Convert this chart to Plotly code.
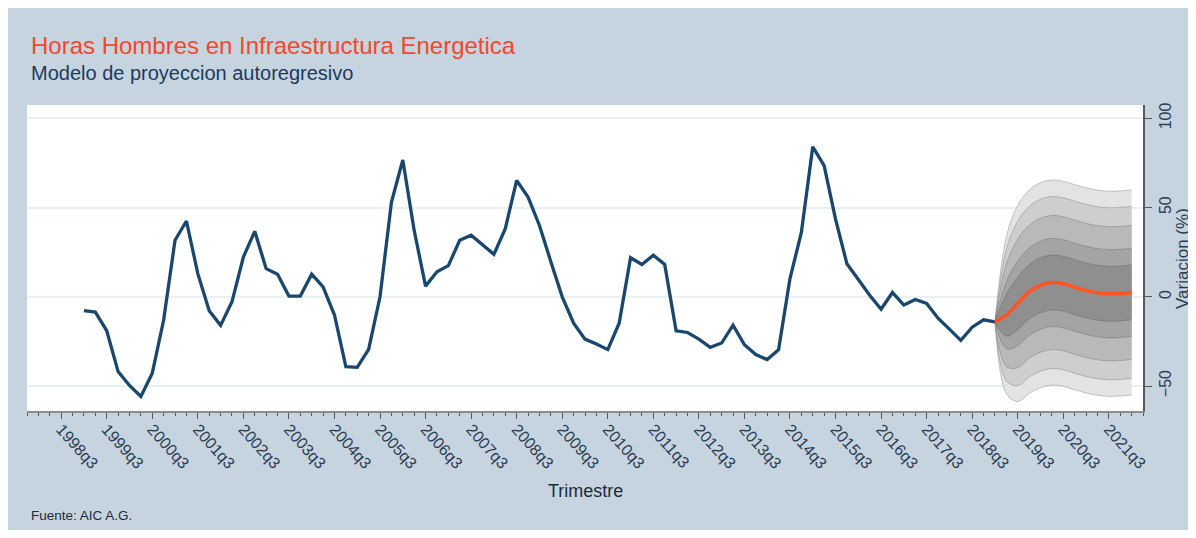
import plotly.graph_objects as go

# ---------------- data ----------------
hist_start_year, hist_start_q = 1999, 1
hist_values = [
    -7.8, -8.6, -19.0, -41.9,            # 1999
    -49.7, -55.9, -42.8, -13.0,          # 2000
    31.7, 42.5, 13.0, -7.8,              # 2001
    -16.0, -2.8, 22.3, 36.7,             # 2002
    15.8, 12.7, 0.4, 0.4,                # 2003
    12.7, 5.6, -10.2, -39.1,             # 2004
    -39.5, -29.4, 0.0, 53.0,             # 2005
    76.7, 37.2, 6.0, 14.0,               # 2006
    17.5, 31.7, 34.5, 29.4,              # 2007
    23.8, 38.2, 65.2, 55.9,              # 2008
    40.0, 19.7, 0.0, -14.8,              # 2009
    -23.7, -26.5, -29.6, -14.8,          # 2010
    21.9, 18.1, 23.3, 18.1,              # 2011
    -19.1, -20.0, -23.7, -28.3,          # 2012
    -25.9, -15.9, -26.9, -32.4,          # 2013
    -35.2, -29.6, 10.2, 36.1,            # 2014
    84.1, 73.5, 43.5, 18.5,              # 2015
    9.3, 0.9, -7.0, 2.4,                 # 2016
    -4.6, -1.5, -3.7, -12.0,             # 2017
    -18.1, -24.4, -17.0, -12.9,          # 2018
    -14.0,                               # 2019q1
]

fc_start_year, fc_start_q = 2019, 1
fc_center = [-14.0, -10.3, -3.7, 2.8, 6.5, 8.0, 7.3, 5.4, 3.6, 2.3, 1.7, 1.9, 2.5]

band95_hi = [-14.0, 33.7, 51.3, 59.8, 64.0, 65.5, 64.8, 62.9, 61.1, 59.8, 59.2, 59.4, 60.0]
band95_lo = [-14.0, -54.3, -58.7, -54.2, -51.0, -49.5, -50.2, -52.1, -53.9, -55.2, -55.8, -55.6, -55.0]
band90_hi = [-14.0, 26.6, 42.4, 50.6, 54.7, 56.2, 55.5, 53.6, 51.8, 50.5, 49.9, 50.1, 50.7]
band90_lo = [-14.0, -47.2, -49.8, -45.0, -41.7, -40.2, -40.9, -42.8, -44.6, -45.9, -46.5, -46.3, -45.7]
band80_hi = [-14.0, 18.5, 32.3, 40.1, 44.1, 45.6, 44.9, 43.0, 41.2, 39.9, 39.3, 39.5, 40.1]
band80_lo = [-14.0, -39.1, -39.7, -34.5, -31.1, -29.6, -30.3, -32.2, -34.0, -35.3, -35.9, -35.7, -35.1]
band60_hi = [-14.0, 8.6, 20.0, 27.3, 31.2, 32.7, 32.0, 30.1, 28.3, 27.0, 26.4, 26.6, 27.2]
band60_lo = [-14.0, -29.2, -27.4, -21.7, -18.2, -16.7, -17.4, -19.3, -21.1, -22.4, -23.0, -22.8, -22.2]
band40_hi = [-14.0, 1.4, 11.0, 18.0, 21.9, 23.4, 22.7, 20.8, 19.0, 17.7, 17.1, 17.3, 17.9]
band40_lo = [-14.0, -22.0, -18.4, -12.4, -8.9, -7.4, -8.1, -10.0, -11.8, -13.1, -13.7, -13.5, -12.9]

tick_years = list(range(1998, 2022))
tick_labels = [f"{y}q3" for y in tick_years]

title_text = "Horas Hombres en Infraestructura Energetica"
subtitle_text = "Modelo de proyeccion autoregresivo"
xtitle_text = "Trimestre"
ytitle_text = "Variacion (%)"
source_text = "Fuente: AIC A.G."

# ---------------- helpers ----------------
def qlabels(y0, q0, n):
    out = []
    y, q = y0, q0
    for _ in range(n):
        out.append(f"{y}q{q}")
        q += 1
        if q > 4:
            q = 1
            y += 1
    return out

def qnum(label):
    y, q = label.split("q")
    return int(y) * 4 + int(q) - 1

hist_labels = qlabels(hist_start_year, hist_start_q, len(hist_values))
fc_labels = qlabels(fc_start_year, fc_start_q, len(fc_center))
hist_x = [qnum(l) for l in hist_labels]
fc_x = [qnum(l) for l in fc_labels]
tick_x = [qnum(l) for l in tick_labels]

# ---------------- layout geometry ----------------
# the page body adds an 8px offset; positions below are in screenshot pixels
OFF = 8
FW, FH = 1196 - OFF, 538 - 2 * OFF
L, R, T, B = 26.5, 1143, 105, 411          # plot area in screenshot pixels
PW, PH = R - L, B - T

def px(xp):
    return (xp - L) / PW

def py(yp):
    return (B - yp) / PH

FONT = "Liberation Sans, Arial, Helvetica, sans-serif"
BG = "#c6d4df"
NAVY = "#1a476f"
TXT = "#2a3c52"

fig = go.Figure()

bands = [
    (band95_lo, band95_hi, "#e3e3e3"),
    (band90_lo, band90_hi, "#cecece"),
    (band80_lo, band80_hi, "#b9b9b9"),
    (band60_lo, band60_hi, "#a4a4a4"),
    (band40_lo, band40_hi, "#8f8f8f"),
]
edge = dict(color="rgba(70,70,70,0.35)", width=0.8, shape="spline", smoothing=1.0)
for lo, hi, col in bands:
    fig.add_trace(go.Scatter(x=fc_x, y=lo, mode="lines", line=edge,
                             hoverinfo="skip", showlegend=False))
    fig.add_trace(go.Scatter(x=fc_x, y=hi, mode="lines", line=edge,
                             fill="tonexty", fillcolor=col,
                             hoverinfo="skip", showlegend=False))

fig.add_trace(go.Scatter(x=hist_x, y=hist_values, mode="lines",
                         line=dict(color=NAVY, width=3.3), showlegend=False))
fig.add_trace(go.Scatter(x=fc_x, y=fc_center, mode="lines",
                         line=dict(color="#ff5526", width=3.6, shape="spline", smoothing=1.0),
                         showlegend=False))

fig.update_layout(
    width=FW, height=FH,
    margin=dict(l=L - OFF, r=(FW + OFF) - R, t=T - OFF, b=(FH + OFF) - B, pad=0),
    paper_bgcolor=BG, plot_bgcolor="white",
    font=dict(family=FONT, color=TXT),
    showlegend=False,
    xaxis=dict(
        range=[7991, 8089], tickmode="array", tickvals=tick_x, ticktext=tick_labels,
        tickangle=48, tickfont=dict(size=16, color=TXT, family=FONT),
        ticklabelstandoff=-5,
        ticks="outside", ticklen=6, tickwidth=1, tickcolor="#555555",
        showgrid=False, zeroline=False,
        showline=True, linecolor="#8c8c8c", linewidth=1.5,
        minor=dict(tickmode="array", tickvals=list(range(7991, 8090)),
                   ticks="outside", ticklen=3.5, tickwidth=1, tickcolor="#555555",
                   showgrid=False),
    ),
    yaxis=dict(
        side="right", range=[-64, 107.5], tickmode="array", tickvals=[-50, 0, 50, 100],
        tickangle=-90, tickfont=dict(size=16, color=TXT, family=FONT),
        ticks="outside", ticklen=7, tickwidth=1, tickcolor="#555555",
        showgrid=True, gridcolor="#e9f0f2", gridwidth=1.5,
        zeroline=False, showline=True, linecolor="#5a5a5a", linewidth=1.5,
    ),
    annotations=[
        dict(text=title_text, x=px(29), y=py(45), xref="paper", yref="paper",
             xanchor="left", yanchor="middle", showarrow=False,
             font=dict(size=24, color="#f5472b", family=FONT)),
        dict(text=subtitle_text, x=px(29), y=py(73), xref="paper", yref="paper",
             xanchor="left", yanchor="middle", showarrow=False,
             font=dict(size=20, color="#1c3a5e", family=FONT)),
        dict(text=xtitle_text, x=px(585), y=py(491), xref="paper", yref="paper",
             xanchor="center", yanchor="middle", showarrow=False,
             font=dict(size=18, color="#1c2b3c", family=FONT)),
        dict(text=ytitle_text, x=px(1182), y=py(258), xref="paper", yref="paper",
             xanchor="center", yanchor="middle", showarrow=False, textangle=-90,
             font=dict(size=17, color=TXT, family=FONT)),
        dict(text=source_text, x=px(29), y=py(515), xref="paper", yref="paper",
             xanchor="left", yanchor="middle", showarrow=False,
             font=dict(size=13.5, color="#1c2b3c", family=FONT)),
    ],
)

fig.write_html("out.html")
